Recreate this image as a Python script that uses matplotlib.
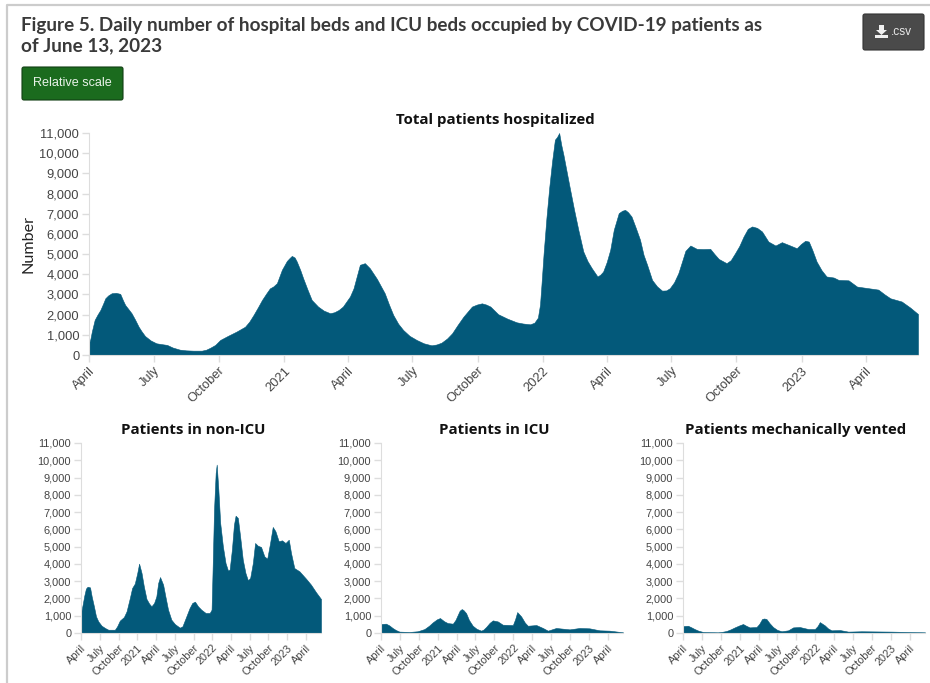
import numpy as np
import matplotlib
matplotlib.use('Agg')
import matplotlib.pyplot as plt
from matplotlib.patches import FancyBboxPatch, Polygon, Rectangle

START = np.datetime64('2020-04-01')
END_DAY = 1169

# day = days since 2020-04-01
total_days = [0, 2, 4, 8, 12, 16, 20, 23, 27, 32, 38, 44, 48, 51, 55, 60, 65, 70, 74, 79, 87, 95, 102, 110, 118, 128,
              137, 147, 159, 165, 171, 178, 185, 196, 208, 220, 226, 232, 238, 244, 250, 255, 260, 265, 272, 279, 283,
              286, 290, 293, 298, 302, 308, 314, 323, 331, 340, 346, 352, 358, 363, 368, 373, 378, 382, 389, 396, 406,
              417, 423, 429, 436, 443, 452, 462, 472, 483, 490, 497, 505, 512, 520, 528, 534, 540, 547, 554, 560, 566,
              577, 590, 603, 612, 622, 628, 633, 636, 638, 641, 645, 649, 653, 657, 660, 663, 666, 669, 674, 678, 684,
              690, 697, 703, 709, 717, 721, 725, 730, 735, 740, 747, 752, 756, 760, 765, 771, 777, 782, 787, 794, 801,
              808, 814, 819, 825, 831, 836, 841, 848, 857, 866, 876, 882, 888, 899, 905, 911, 917, 923, 929, 935, 942,
              949, 958, 968, 977, 987, 998, 1004, 1010, 1015, 1020, 1026, 1033, 1040, 1050, 1057, 1071, 1083, 1099,
              1113, 1122, 1130, 1146, 1158, 1169]
total_vals = [580, 800, 1160, 1740, 2000, 2230, 2550, 2810, 2950, 3060, 3080, 3030, 2700, 2480, 2300, 2070, 1750, 1400,
              1180, 940, 720, 580, 540, 500, 370, 265, 230, 215, 215, 260, 360, 500, 745, 950, 1160, 1400, 1650, 1985,
              2350, 2730, 3050, 3300, 3400, 3560, 4220, 4660, 4810, 4910, 4830, 4630, 4200, 3800, 3250, 2730, 2400,
              2200, 2070, 2120, 2230, 2400, 2650, 2900, 3300, 3950, 4470, 4550, 4300, 3770, 3060, 2500, 1985, 1550,
              1240, 950, 745, 580, 480, 520, 610, 820, 1075, 1500, 1900, 2150, 2400, 2500, 2560, 2500, 2400, 2020,
              1800, 1620, 1560, 1520, 1600, 1850, 2500, 3470, 5000, 6780, 8300, 9590, 10670, 10800, 11000, 10400, 9920,
              9000, 8270, 7200, 6200, 5130, 4650, 4300, 3890, 3980, 4135, 4600, 5210, 6200, 7030, 7150, 7190, 7080,
              6860, 6300, 5710, 4960, 4470, 3720, 3400, 3190, 3200, 3310, 3600, 4050, 4600, 5160, 5425, 5260, 5250,
              5260, 5000, 4760, 4550, 4700, 5040, 5400, 5870, 6250, 6370, 6300, 6120, 5620, 5425, 5590, 5450, 5290,
              5500, 5660, 5620, 5200, 4630, 4200, 3890, 3840, 3720, 3700, 3390, 3310, 3240, 3000, 2810, 2650, 2350,
              2030]

nonicu_days = [0, 8, 16, 24, 32, 44, 52, 63, 73, 84, 100, 117, 133, 165, 176, 189, 209, 222, 238, 249, 262, 274, 283,
               295, 306, 319, 332, 343, 356, 367, 376, 385, 400, 411, 424, 440, 457, 481, 494, 510, 529, 542, 555, 570,
               586, 607, 627, 636, 641, 648, 656, 661, 669, 678, 691, 704, 716, 724, 735, 745, 753, 764, 775, 788, 801,
               813, 824, 837, 848, 861, 877, 893, 907, 921, 934, 947, 963, 979, 996, 1012, 1023, 1039, 1064, 1096, 1120,
               1145, 1169]
nonicu_vals = [1160, 1640, 2160, 2570, 2680, 2640, 2120, 1540, 965, 675, 425, 290, 190, 190, 385, 715, 925, 1255, 2030,
               2605, 2860, 3470, 4015, 3470, 2700, 1970, 1700, 1545, 1735, 2120, 2895, 3240, 2800, 2120, 1350, 770, 520,
               310, 385, 870, 1450, 1740, 1815, 1545, 1350, 1160, 1160, 1350, 3670, 7140, 9265, 9750, 8300, 6370, 5020,
               4050, 3610, 3670, 4825, 6270, 6790, 6660, 5600, 4245, 3475, 3050, 3185, 4050, 5210, 5055, 4980, 4440,
               4300, 5210, 6140, 5890, 5310, 5365, 5210, 5400, 4630, 3760, 3570, 3145, 2800, 2355, 1970]

icu_days = [0, 24, 40, 56, 72, 89, 137, 177, 195, 210, 232, 250, 270, 285, 305, 322, 347, 360, 371, 380, 390, 398, 411,
            425, 443, 462, 484, 495, 508, 525, 540, 564, 588, 637, 648, 658, 677, 695, 709, 750, 782, 806, 846, 911, 959,
            1007, 1056, 1104, 1169]
icu_vals = [520, 540, 440, 290, 170, 80, 60, 100, 170, 230, 420, 615, 790, 865, 680, 575, 540, 760, 1055, 1290, 1385,
            1330, 1150, 750, 420, 240, 135, 200, 350, 590, 730, 670, 480, 460, 800, 1210, 960, 600, 420, 460, 290, 135,
            290, 210, 290, 270, 155, 135, 40]

vent_days = [0, 24, 40, 56, 75, 97, 169, 190, 210, 230, 250, 272, 290, 305, 322, 355, 368, 382, 392, 403, 418, 435, 455,
             476, 508, 532, 564, 605, 637, 650, 661, 685, 700, 717, 758, 798, 862, 1008, 1088, 1169]
vent_vals = [400, 420, 330, 230, 130, 60, 40, 70, 115, 210, 325, 440, 520, 420, 325, 345, 520, 810, 840, 810, 570, 345,
             180, 100, 155, 325, 345, 230, 230, 400, 630, 440, 270, 155, 170, 80, 100, 80, 60, 40]

tick_dates = ['2020-04-01', '2020-07-01', '2020-10-01', '2021-01-01', '2021-04-01', '2021-07-01', '2021-10-01',
              '2022-01-01', '2022-04-01', '2022-07-01', '2022-10-01', '2023-01-01', '2023-04-01']
tick_labels = ['April', 'July', 'October', '2021', 'April', 'July', 'October', '2022', 'April', 'July', 'October',
               '2023', 'April']
y_ticks = list(range(0, 11001, 1000))

W, H = 930, 683
BAR_COLOR = '#03597a'
AXIS_COLOR = '#dddddd'
LABEL_COLOR = '#444444'


def px_axes(fig, left, right, top, bottom):
    return fig.add_axes([left / W, 1 - bottom / H, (right - left) / W, (bottom - top) / H])


def area_panel(fig, box, days, vals, title, title_x, title_y, tick_size):
    ax = px_axes(fig, *box)
    x = START + np.array(days, dtype='timedelta64[D]')
    ax.fill_between(x, vals, 0, color=BAR_COLOR, linewidth=0.4, clip_on=False)
    ax.set_xlim(START, START + np.timedelta64(END_DAY, 'D'))
    ax.set_ylim(0, 11000)
    ax.set_yticks(y_ticks)
    ax.set_yticklabels([f'{v:,}' for v in y_ticks])
    ax.set_xticks(np.array(tick_dates, dtype='datetime64[D]'))
    ax.set_xticklabels(tick_labels, rotation=45, ha='right', rotation_mode='anchor')
    ax.tick_params(axis='both', length=5, width=1, color=AXIS_COLOR, labelcolor=LABEL_COLOR,
                   labelsize=tick_size, pad=2)
    for name in ['top', 'right']:
        ax.spines[name].set_visible(False)
    for name in ['left', 'bottom']:
        ax.spines[name].set_color(AXIS_COLOR)
    ax.set_facecolor('none')
    fig.text(title_x / W, 1 - title_y / H, title, family='Open Sans', weight='bold', fontsize=10.85,
             color='#111111', ha='center', va='center')
    return ax


fig = plt.figure(figsize=(W / 100, H / 100), dpi=100)
plt.rcParams['font.family'] = ['Liberation Sans', 'DejaVu Sans']

# page decoration in pixel coordinates
bg = fig.add_axes([0, 0, 1, 1])
bg.set_xlim(0, W)
bg.set_ylim(H, 0)
bg.axis('off')
bg.plot([7, 7, W], [H, 5, 5], color='#cccccc', linewidth=1.6)

bg.text(21, 25, 'Figure 5. Daily number of hospital beds and ICU beds occupied by COVID-19 patients as',
        family='Lato', weight='bold', fontsize=13.55, color='#3a3a3a', va='center')
bg.text(21, 46, 'of June 13, 2023', family='Lato', weight='bold', fontsize=13.55, color='#3a3a3a', va='center')

bg.add_patch(FancyBboxPatch((22, 67), 101, 33, boxstyle='round,pad=0,rounding_size=2', facecolor='#1b6b1e',
                            edgecolor='#123f14', linewidth=0.8))
bg.text(72, 83, 'Relative scale', fontsize=9.1, color='#e8f2e8', ha='center', va='center')

bg.add_patch(FancyBboxPatch((863, 14), 61, 36, boxstyle='round,pad=0,rounding_size=2', facecolor='#4a4a4a',
                            edgecolor='#333333', linewidth=0.8))
bg.add_patch(Polygon([(879, 25), (884, 25), (884, 30), (887, 30), (881.5, 35), (876, 30), (879, 30)],
                     facecolor='#f0f0f0', edgecolor='none'))
bg.add_patch(Rectangle((875, 35), 13, 3, facecolor='#f0f0f0', edgecolor='none'))
bg.text(891, 32, '.csv', fontsize=8.6, color='#e8e8e8', va='center')

bg.text(28, 244, 'Number', family='Lato', fontsize=11.6, color='#222222', rotation=90, ha='center', va='center')

area_panel(fig, (89, 918, 133, 355), total_days, total_vals, 'Total patients hospitalized', 495, 120, 9.3)
area_panel(fig, (81, 321, 443, 633), nonicu_days, nonicu_vals, 'Patients in non-ICU', 193, 430, 7.9)
area_panel(fig, (381, 623, 443, 633), icu_days, icu_vals, 'Patients in ICU', 494, 430, 7.9)
area_panel(fig, (683, 925, 443, 633), vent_days, vent_vals, 'Patients mechanically vented', 796, 430, 7.9)

plt.savefig('out.png', dpi=100)
plt.close()
